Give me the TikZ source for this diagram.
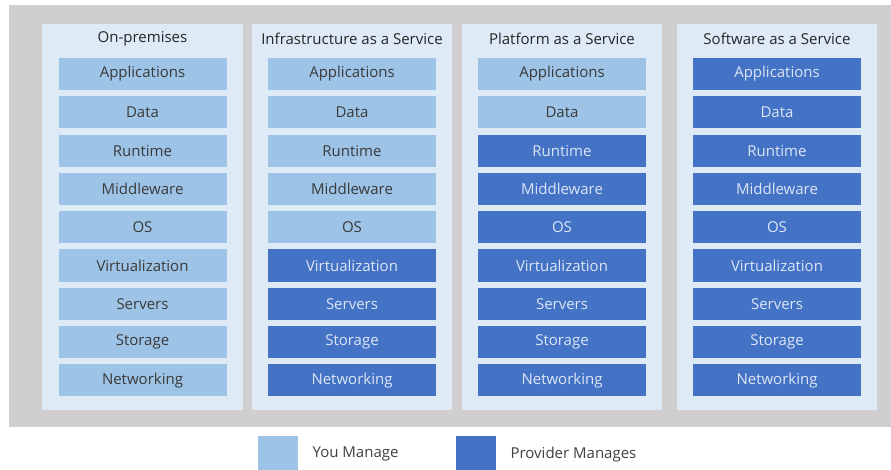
\documentclass[tikz,border=0pt]{standalone}
\usepackage{fontspec}
\setmainfont{Open Sans}
\usetikzlibrary{positioning}
\definecolor{bggray}{HTML}{D0CECE}
\definecolor{panelblue}{HTML}{DEEBF7}
\definecolor{youblue}{HTML}{9DC3E6}
\definecolor{provblue}{HTML}{4472C4}
\definecolor{youtext}{HTML}{3A3A3A}
\definecolor{provtext}{HTML}{DCE6F6}

\tikzset{
  you/.style={fill=youblue,text=youtext,minimum width=168,minimum height=32,
    inner sep=0pt,font=\fontsize{15}{15}\selectfont},
  prov/.style={you,fill=provblue,text=provtext},
  coltitle/.style={text=black!85,inner sep=0pt,font=\fontsize{15}{15}\selectfont},
  legbox/.style={minimum width=40,minimum height=36,inner sep=0pt,anchor=north west},
  legtext/.style={text=black!75,inner sep=0pt,font=\fontsize{15}{15}\selectfont}
}

\begin{document}
\begin{tikzpicture}[x=1pt,y=-1pt]
\useasboundingbox (0,0) rectangle (891,470);
\fill[bggray] (9,5) rectangle (891,427);

% the four columns, \k = layers you manage
\foreach \c/\x/\w/\t/\k in {onprem/42/201/On-premises/9,
    iaas/252/200/Infrastructure as a Service/5,
    paas/462/200/Platform as a Service/2,
    saas/677/200/Software as a Service/0}{
  \fill[panelblue] (\x,24) rectangle ++(\w,386);
  \node[coltitle] (\c-title) at (\x+\w/2,39) {\t};
  \foreach \lab [count=\i] in {Applications,Data,Runtime,Middleware,OS,
      Virtualization,Servers,Storage,Networking}{
    \ifnum\i>\k \def\sty{prov}\else\def\sty{you}\fi
    \node[\sty] (\c-\i) at (\x+\w/2,74+38.3*\i-38.3) {\lab};
  }
}

% legend
\node[legbox,fill=youblue] (youkey) at (258,436) {};
\node[legtext,right=14 of youkey] (youlabel) {You Manage};
\node[legbox,fill=provblue] (provkey) at (456,436) {};
\node[legtext,right=14 of provkey] (provlabel) {Provider Manages};
\end{tikzpicture}
\end{document}
